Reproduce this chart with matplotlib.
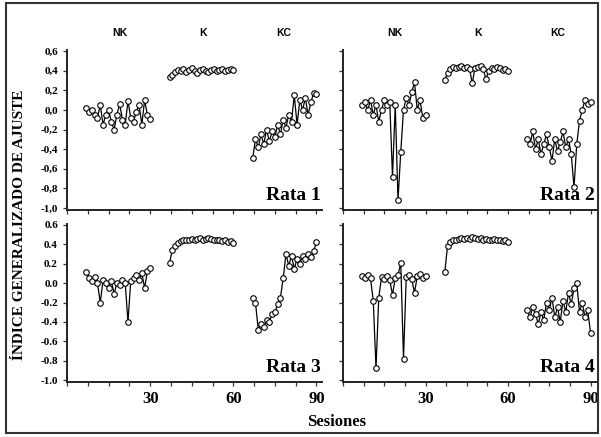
import matplotlib.pyplot as plt
from matplotlib.patches import Rectangle
from matplotlib.ticker import MultipleLocator, FixedLocator
import matplotlib.transforms as mtransforms

# Sessions of each phase
nk_sessions = list(range(7, 31))
k_sessions = list(range(37, 61))
kc_sessions = list(range(67, 91))

# Rata 1
rata1_nk = [0.02, -0.02, 0.0, -0.05, -0.08, 0.05, -0.15, -0.05, 0.0, -0.12, -0.2,
            -0.05, 0.06, -0.1, -0.15, 0.09, -0.08, -0.12, -0.02, 0.05, -0.15, 0.1, -0.05, -0.09]
rata1_k = [0.33, 0.36, 0.39, 0.41, 0.4, 0.42, 0.39, 0.41, 0.43, 0.4, 0.38, 0.41,
           0.42, 0.4, 0.39, 0.41, 0.42, 0.4, 0.41, 0.42, 0.4, 0.41, 0.42, 0.41]
rata1_kc = [-0.49, -0.3, -0.38, -0.25, -0.35, -0.2, -0.32, -0.22, -0.28, -0.15, -0.25, -0.1,
            -0.18, -0.05, -0.12, 0.15, -0.15, 0.1, 0.0, 0.12, -0.05, 0.08, 0.17, 0.16]

# Rata 2
rata2_nk = [0.05, 0.08, 0.0, 0.1, -0.05, 0.05, -0.12, 0.0, 0.1, 0.05, 0.08, -0.68,
            0.05, -0.92, -0.43, 0.0, 0.12, 0.05, 0.18, 0.28, 0.0, 0.1, -0.08, -0.05]
rata2_k = [0.3, 0.38, 0.42, 0.44, 0.43, 0.44, 0.45, 0.43, 0.44, 0.42, 0.27, 0.43,
           0.44, 0.45, 0.42, 0.31, 0.4, 0.43, 0.42, 0.44, 0.43, 0.41, 0.42, 0.4]
rata2_kc = [-0.3, -0.35, -0.22, -0.4, -0.3, -0.45, -0.35, -0.25, -0.38, -0.52, -0.3, -0.42,
            -0.33, -0.22, -0.38, -0.3, -0.45, -0.79, -0.35, -0.11, 0.0, 0.1, 0.06, 0.08]

# Rata 3
rata3_nk = [0.11, 0.05, 0.02, 0.06, 0.0, -0.2, 0.03, 0.0, -0.05, 0.02, -0.11, 0.0,
            -0.02, 0.03, 0.0, -0.4, 0.02, 0.05, 0.08, 0.03, 0.1, -0.05, 0.12, 0.16]
rata3_k = [0.21, 0.34, 0.38, 0.41, 0.43, 0.44, 0.45, 0.44, 0.46, 0.45, 0.46, 0.47,
           0.45, 0.46, 0.47, 0.46, 0.45, 0.44, 0.45, 0.43, 0.44, 0.42, 0.43, 0.41]
rata3_kc = [-0.15, -0.2, -0.48, -0.42, -0.45, -0.38, -0.4, -0.32, -0.3, -0.22, -0.15, 0.05,
            0.3, 0.18, 0.28, 0.15, 0.25, 0.2, 0.28, 0.25, 0.3, 0.27, 0.33, 0.42]

# Rata 4
rata4_nk = [0.07, 0.05, 0.08, 0.05, -0.18, -0.88, -0.15, 0.06, 0.04, 0.07, 0.03, -0.12,
            0.05, 0.08, 0.21, -0.78, 0.06, 0.08, 0.04, -0.1, 0.07, 0.09, 0.05, 0.07]
rata4_k = [0.11, 0.38, 0.42, 0.44, 0.45, 0.46, 0.47, 0.46, 0.47, 0.46, 0.48, 0.47,
           0.46, 0.47, 0.45, 0.46, 0.44, 0.45, 0.46, 0.45, 0.44, 0.43, 0.45, 0.42]
rata4_kc = [-0.28, -0.35, -0.25, -0.32, -0.42, -0.3, -0.38, -0.2, -0.28, -0.15, -0.35, -0.25,
            -0.4, -0.18, -0.3, -0.1, -0.22, -0.05, 0.0, -0.3, -0.2, -0.35, -0.28, -0.51]

rat_names = ['Rata 1', 'Rata 2', 'Rata 3', 'Rata 4']
phase_names = ['NK', 'K', 'KC']
phase_centers = [19, 49, 78]

y_ticks = [0.6, 0.4, 0.2, 0.0, -0.2, -0.4, -0.6, -0.8, -1.0]
y_labels_top = ['0,6', '0,4', '0,2', '0,0', '-0,2', '-0,4', '-0,6', '-0,8', '-1,0']
y_labels_bottom = ['0.6', '0.4', '0.2', '0.0', '-0.2', '-0.4', '-0.6', '-0.8', '-1.0']

rats = [
    (rata1_nk, rata1_k, rata1_kc),
    (rata2_nk, rata2_k, rata2_kc),
    (rata3_nk, rata3_k, rata3_kc),
    (rata4_nk, rata4_k, rata4_kc),
]

serif = 'Liberation Serif'

W, H = 601, 437
fig = plt.figure(figsize=(W / 100, H / 100), dpi=100)

# axes boxes in pixels: left, top, right, bottom
boxes = [(67, 50, 322, 210), (343, 50, 596, 210),
         (67, 224, 322, 382), (343, 224, 596, 382)]

for i, (l, t, r, b) in enumerate(boxes):
    ax = fig.add_axes([l / W, (H - b) / H, (r - l) / W, (b - t) / H])
    nk, k, kc = rats[i]
    for xs, ys in zip([nk_sessions, k_sessions, kc_sessions], [nk, k, kc]):
        ax.plot(xs, ys, color='black', lw=0.9, marker='o', markersize=4,
                markerfacecolor='white', markeredgecolor='black', markeredgewidth=0.8)

    ax.set_xlim(0, 92)
    ax.set_ylim(-1.02, 0.61)

    for side in ['top', 'right']:
        ax.spines[side].set_visible(False)
    for side in ['left', 'bottom']:
        ax.spines[side].set_linewidth(1.4)
        ax.spines[side].set_color('#222222')

    ax.xaxis.set_major_locator(FixedLocator([30, 60, 90]))
    ax.xaxis.set_minor_locator(MultipleLocator(7.5))
    ax.yaxis.set_major_locator(FixedLocator(y_ticks))
    ax.tick_params(which='both', direction='out', length=3, width=0.9, color='#333333')

    if i < 2:
        ax.set_xticklabels([])
    else:
        ax.set_xticklabels(['30', '60', '90'], fontfamily=serif, fontweight='bold', fontsize=12)

    if i % 2 == 0:
        labels = y_labels_top if i < 2 else y_labels_bottom
        ax.set_yticklabels(labels, fontfamily=serif, fontweight='bold', fontsize=8)
    else:
        ax.set_yticklabels([])

    # rat label in the corner
    ax.text(0.995, 0.035, rat_names[i], transform=ax.transAxes, ha='right', va='bottom',
            fontfamily=serif, fontweight='bold', fontsize=14)

    # phase labels above the top panels
    if i < 2:
        trans = mtransforms.blended_transform_factory(ax.transData, ax.transAxes)
        for name, xc in zip(phase_names, phase_centers):
            ax.text(xc, 1.105, name, transform=trans, ha='center', va='center',
                    fontfamily='Liberation Sans', fontweight='bold', fontsize=7.5)

# axis titles
fig.text(20 / W, 1 - 225 / H, 'ÍNDICE GENERALIZADO DE AJUSTE', rotation=90,
         ha='center', va='center', fontfamily=serif, fontweight='bold', fontsize=11)
fig.text(337 / W, 1 - 422 / H, 'Sesiones', ha='center', va='center',
         fontfamily=serif, fontweight='bold', fontsize=12)

# outer frame
fig.patches.append(Rectangle((6 / W, 1 - 433 / H), 592 / W, 430 / H, transform=fig.transFigure,
                             fill=False, edgecolor='#333333', linewidth=1.5))

fig.savefig('out.png', dpi=100)
